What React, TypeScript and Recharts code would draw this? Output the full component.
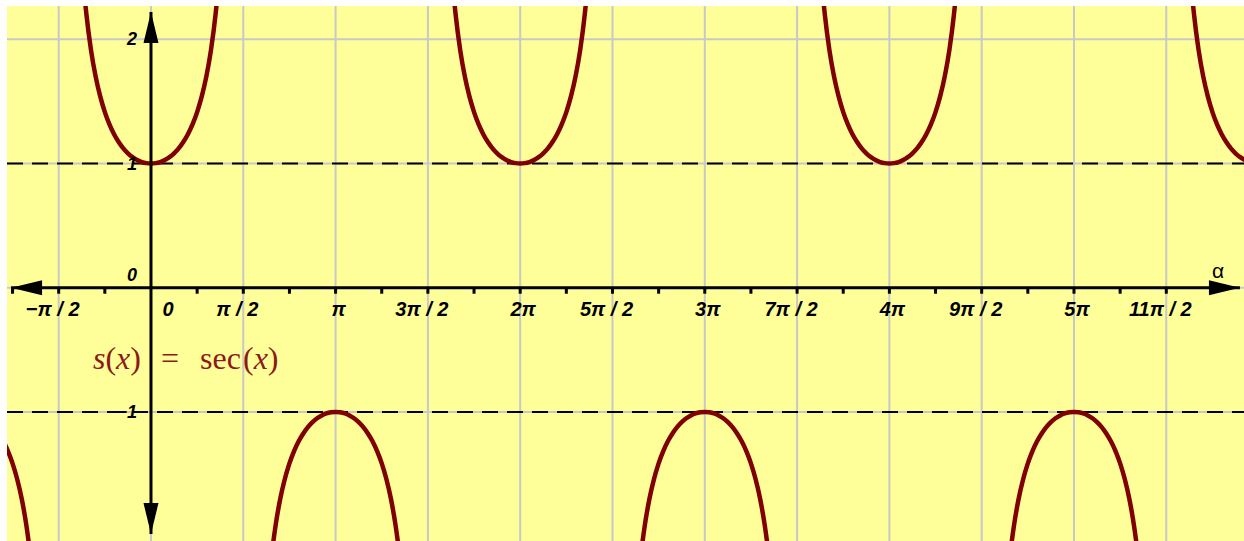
import { LineChart, Line, XAxis, YAxis, CartesianGrid, ReferenceLine, ReferenceDot } from 'recharts'

const W = 1237, H = 535
const BG = '#ffff99', CURVE = '#800000', GRID = '#c8c8c8', INK = '#000000', FORMULA = '#8b1a1a'
const LABEL_FONT = '"Liberation Sans", Arial, sans-serif'
const MATH_FONT = '"Liberation Serif", "Times New Roman", serif'

// x measured in units of π
const X_DOMAIN = [-0.78, 5.921]
const Y_DOMAIN = [-2.039, 2.268]

const GRID_X = [-0.5, 0, 0.5, 1, 1.5, 2, 2.5, 3, 3.5, 4, 4.5, 5, 5.5]
const GRID_Y = [-2, -1, 0, 1, 2]
const MINOR_TICKS = [-0.75, -0.5, -0.25, 0.25, 0.5, 0.75, 1, 1.25, 1.5, 1.75, 2, 2.25, 2.5, 2.75, 3, 3.25, 3.5, 3.75, 4, 4.25, 4.5, 4.75, 5, 5.25, 5.5, 5.75]
const X_LABEL_POS = [-0.5, 0, 0.5, 1, 1.5, 2, 2.5, 3, 3.5, 4, 4.5, 5, 5.5]
const X_LABELS = ['−π / 2', '0', 'π / 2', 'π', '3π / 2', '2π', '5π / 2', '3π', '7π / 2', '4π', '9π / 2', '5π', '11π / 2']
const Y_LABEL_POS = [2, 1, -1]
const Y_LABELS = ['2', '1', '−1']
const DASHED_Y = [1, -1]
const AXIS_X_ENDS = [-0.758, 5.899]
const AXIS_Y_ENDS = [2.22, -1.983]

// one branch of sec, centred on its extremum (offset in units of π)
const OFFSETS = [-0.4, -0.375, -0.35, -0.325, -0.3, -0.275, -0.25, -0.225, -0.2, -0.175, -0.15, -0.125, -0.1, -0.075, -0.05, -0.025, 0,
  0.025, 0.05, 0.075, 0.1, 0.125, 0.15, 0.175, 0.2, 0.225, 0.25, 0.275, 0.3, 0.325, 0.35, 0.375, 0.4]
const SEC_VALUES = [3.236, 2.613, 2.203, 1.914, 1.701, 1.54, 1.414, 1.315, 1.236, 1.173, 1.122, 1.082, 1.051, 1.028, 1.012, 1.003, 1,
  1.003, 1.012, 1.028, 1.051, 1.082, 1.122, 1.173, 1.236, 1.315, 1.414, 1.54, 1.701, 1.914, 2.203, 2.613, 3.236]
const BRANCH_CENTERS = [-1, 0, 1, 2, 3, 4, 5, 6]
const BRANCH_SIGN = [-1, 1, -1, 1, -1, 1, -1, 1]

const data: { x: number; y: number | null }[] = []
BRANCH_CENTERS.forEach((c, i) => {
  OFFSETS.forEach((o, j) => data.push({ x: c + o, y: BRANCH_SIGN[i] * SEC_VALUES[j] }))
  data.push({ x: c + 0.5, y: null })
})

const xLabelStyle = { fontFamily: LABEL_FONT, fontWeight: 700, fontStyle: 'italic', fontSize: 20 } as const
const yLabelStyle = { ...xLabelStyle, fontSize: 18 } as const

export default function App() {
  return (
    <div style={{ position: 'absolute', left: 7, top: 6, width: W, height: H, background: BG }}>
      <LineChart width={W} height={H} data={data} margin={{ top: 0, right: 0, bottom: 0, left: 0 }}>
        <XAxis type="number" dataKey="x" domain={X_DOMAIN} allowDataOverflow hide />
        <YAxis type="number" domain={Y_DOMAIN} allowDataOverflow hide />
        <CartesianGrid stroke={GRID} strokeWidth={2} verticalValues={GRID_X} horizontalValues={GRID_Y} />
        {DASHED_Y.map((v) => (
          <ReferenceLine key={'d' + v} y={v} stroke={INK} strokeWidth={2} strokeDasharray="16 9" />
        ))}
        <Line type="monotone" dataKey="y" stroke={CURVE} strokeWidth={4.5} dot={false} activeDot={false}
          isAnimationActive={false} />
        <ReferenceLine segment={[{ x: AXIS_X_ENDS[0], y: 0 }, { x: AXIS_X_ENDS[1], y: 0 }]} stroke={INK} strokeWidth={3} />
        <ReferenceLine segment={[{ x: 0, y: AXIS_Y_ENDS[0] }, { x: 0, y: AXIS_Y_ENDS[1] }]} stroke={INK} strokeWidth={3} />
        <ReferenceDot x={AXIS_X_ENDS[0]} y={0} shape={(p: any) => (
          <polygon points={`${p.cx},${p.cy} ${p.cx + 31},${p.cy - 7.5} ${p.cx + 31},${p.cy + 7.5}`} fill={INK} />
        )} />
        <ReferenceDot x={AXIS_X_ENDS[1]} y={0} shape={(p: any) => (
          <polygon points={`${p.cx},${p.cy} ${p.cx - 31},${p.cy - 7.5} ${p.cx - 31},${p.cy + 7.5}`} fill={INK} />
        )} />
        <ReferenceDot x={0} y={AXIS_Y_ENDS[0]} shape={(p: any) => (
          <polygon points={`${p.cx},${p.cy} ${p.cx - 7.5},${p.cy + 31} ${p.cx + 7.5},${p.cy + 31}`} fill={INK} />
        )} />
        <ReferenceDot x={0} y={AXIS_Y_ENDS[1]} shape={(p: any) => (
          <polygon points={`${p.cx},${p.cy} ${p.cx - 7.5},${p.cy - 31} ${p.cx + 7.5},${p.cy - 31}`} fill={INK} />
        )} />
        {MINOR_TICKS.map((t) => (
          <ReferenceDot key={'t' + t} x={t} y={0} shape={(p: any) => (
            <rect x={p.cx - 1.5} y={p.cy} width={3} height={6} fill={INK} />
          )} />
        ))}
        {X_LABEL_POS.map((t, i) => {
          const lab = X_LABELS[i]
          const dx = lab === '0' ? 17 : lab.includes('/') ? -6 : 3
          return (
            <ReferenceDot key={'xl' + t} x={t} y={0} shape={(p: any) => (
              <text x={p.cx + dx} y={p.cy + 21} textAnchor="middle" dominantBaseline="central" fill={INK} style={xLabelStyle}>{lab}</text>
            )} />
          )
        })}
        {Y_LABEL_POS.map((v, i) => (
          <ReferenceDot key={'yl' + v} x={0} y={v} shape={(p: any) => (
            <text x={p.cx - 14} y={p.cy} textAnchor="end" dominantBaseline="central" fill={INK} style={yLabelStyle}>{Y_LABELS[i]}</text>
          )} />
        ))}
        <ReferenceDot x={0} y={0} shape={(p: any) => (
          <text x={p.cx - 14} y={p.cy - 13} textAnchor="end" dominantBaseline="central" fill={INK} style={yLabelStyle}>0</text>
        )} />
        <ReferenceDot x={5.78} y={0} shape={(p: any) => (
          <text x={p.cx} y={p.cy - 17} textAnchor="middle" dominantBaseline="central" fill={INK}
            style={{ fontFamily: LABEL_FONT, fontSize: 21 }}>α</text>
        )} />
        <ReferenceDot x={0} y={-0.566} shape={(p: any) => (
          <text y={p.cy} dominantBaseline="central" fill={FORMULA} style={{ fontFamily: MATH_FONT, fontSize: 32 }}>
            <tspan x={p.cx - 58} fontStyle="italic">s</tspan>
            <tspan>(</tspan><tspan fontStyle="italic">x</tspan><tspan>)</tspan>
            <tspan x={p.cx + 10}>=</tspan>
            <tspan x={p.cx + 49}>sec</tspan>
            <tspan x={p.cx + 92}>(</tspan><tspan fontStyle="italic">x</tspan><tspan>)</tspan>
          </text>
        )} />
      </LineChart>
    </div>
  )
}
